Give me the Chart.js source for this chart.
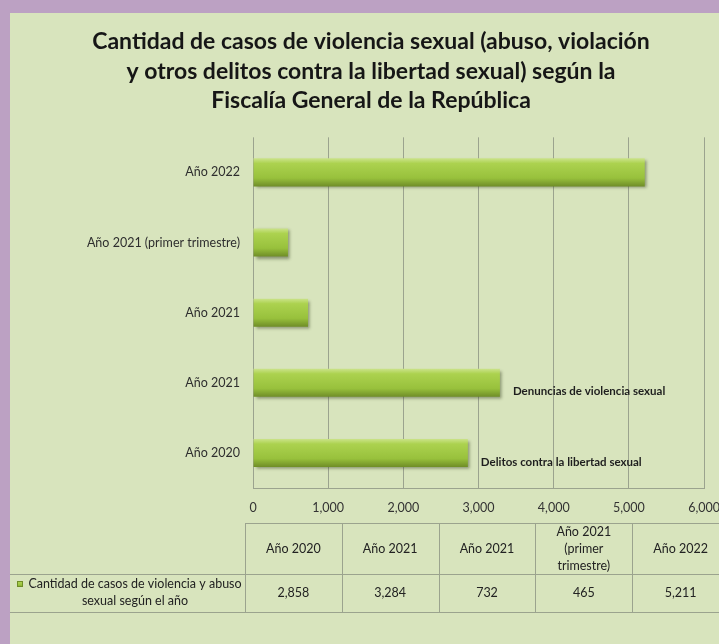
<!DOCTYPE html>
<html lang="es">
<head>
<meta charset="utf-8">
<title>Casos de violencia sexual</title>
<script src="https://cdn.jsdelivr.net/npm/chart.js@4.4.1/dist/chart.umd.min.js"></script>
<style>
  html, body { margin: 0; padding: 0; }
  body { width: 719px; height: 644px; overflow: hidden; background: #bca1c3; position: relative; }
  #panel { position: absolute; left: 10px; top: 13px; width: 722px; height: 631px; background: #d8e4bd; }
</style>
</head>
<body>
<div id="panel"><canvas id="casesChart" width="722" height="631"></canvas></div>
<script>
// categories in data order (Excel draws them bottom to top)
const categories = ["Año 2020", "Año 2021", "Año 2021", "Año 2021 (primer trimestre)", "Año 2022"];
const tableHeaders = [["Año 2020"], ["Año 2021"], ["Año 2021"], ["Año 2021", "(primer", "trimestre)"], ["Año 2022"]];
const casos = [2858, 3284, 732, 465, 5211];
const barNotes = ["Delitos contra la libertad sexual", "Denuncias de violencia sexual", "", "", ""];
const seriesName = ["Cantidad de casos de violencia y abuso", "sexual según el año"];
const xTicks = [0, 1000, 2000, 3000, 4000, 5000, 6000];
const chartTitle = [
  "Cantidad de casos de violencia sexual (abuso, violación",
  "y otros delitos contra la libertad sexual) según la",
  "Fiscalía General de la República",
];

const FONT = "Lato, 'Open Sans', sans-serif";
const GRID = "#9ba38e";

function barGradient(ctx, top, bottom) {
  const g = ctx.createLinearGradient(0, top, 0, bottom);
  g.addColorStop(0, "#cbe38a");
  g.addColorStop(0.18, "#acd24f");
  g.addColorStop(0.7, "#98c13c");
  g.addColorStop(1, "#6f8d27");
  return g;
}

// bar shadow + notes next to the bars
const barDecor = {
  id: "barDecor",
  beforeDatasetsDraw(chart) {
    const c = chart.ctx;
    c.save();
    c.shadowColor = "rgba(40,50,20,0.45)";
    c.shadowBlur = 3;
    c.shadowOffsetX = 2;
    c.shadowOffsetY = 2;
  },
  afterDatasetsDraw(chart) {
    const c = chart.ctx;
    c.restore();
    const meta = chart.getDatasetMeta(0);
    c.save();
    c.font = "bold 11.5px " + FONT;
    c.fillStyle = "#1e1e1e";
    c.textBaseline = "middle";
    c.textAlign = "left";
    meta.data.forEach((bar, i) => {
      if (!barNotes[i]) return;
      c.fillText(barNotes[i], bar.x + 13, bar.y + 9);
    });
    c.restore();
  },
};

// Excel-like data table under the chart
const dataTable = {
  id: "dataTable",
  afterDraw(chart) {
    const c = chart.ctx;
    const area = chart.chartArea;
    const left = area.left - 8;
    const colW = 96.8;
    const top = area.bottom + 35;
    const mid = top + 51;
    const bottom = mid + 38;
    c.save();
    c.strokeStyle = GRID;
    c.lineWidth = 1;
    c.beginPath();
    c.moveTo(left, top + 0.5); c.lineTo(chart.width, top + 0.5);
    c.moveTo(0, mid + 0.5); c.lineTo(chart.width, mid + 0.5);
    c.moveTo(0, bottom + 0.5); c.lineTo(chart.width, bottom + 0.5);
    for (let i = 0; i <= categories.length; i++) {
      const x = Math.round(left + i * colW) + 0.5;
      c.moveTo(x, top); c.lineTo(x, bottom);
    }
    c.stroke();

    c.fillStyle = "#222";
    c.font = "12.5px " + FONT;
    c.textAlign = "center";
    c.textBaseline = "middle";
    tableHeaders.forEach((lines, i) => {
      const cx = left + (i + 0.5) * colW;
      const cy = (top + mid) / 2 - ((lines.length - 1) * 17) / 2;
      lines.forEach((t, k) => c.fillText(t, cx, cy + k * 17));
    });
    casos.forEach((v, i) => {
      c.fillText(v.toLocaleString("en-US"), left + (i + 0.5) * colW, (mid + bottom) / 2);
    });

    // series key
    c.fillText(seriesName[0], 125, mid + 10);
    c.fillText(seriesName[1], 125, mid + 27);
    c.fillStyle = barGradient(c, mid + 7, mid + 13);
    c.fillRect(7, mid + 7, 6, 6);
    c.strokeStyle = "#6f8d27";
    c.strokeRect(7.5, mid + 7.5, 5, 5);
    c.restore();
  },
};

new Chart(document.getElementById("casesChart"), {
  type: "bar",
  data: {
    labels: categories,
    datasets: [
      {
        label: seriesName.join(" "),
        data: casos,
        backgroundColor: (ctx) => {
          const chart = ctx.chart;
          const y = chart.scales.y;
          if (!chart.chartArea || !y) return "#9cc43f";
          const cy = y.getPixelForValue(ctx.dataIndex);
          const h = (y.height / categories.length) * 0.4;
          return barGradient(chart.ctx, cy - h / 2, cy + h / 2);
        },
        borderWidth: 0,
        barPercentage: 0.8,
        categoryPercentage: 0.5,
      },
    ],
  },
  options: {
    indexAxis: "y",
    responsive: false,
    animation: false,
    devicePixelRatio: 1,
    layout: { padding: { left: 27, right: 27, top: 0, bottom: 126 } },
    plugins: {
      legend: { display: false },
      tooltip: { enabled: false },
      title: {
        display: true,
        text: chartTitle,
        color: "#161616",
        font: { family: FONT, size: 23, weight: "bold", lineHeight: 1.28 },
        padding: { top: 14, bottom: 22 },
      },
    },
    scales: {
      x: {
        min: xTicks[0],
        max: xTicks[xTicks.length - 1],
        afterBuildTicks: (s) => { s.ticks = xTicks.map((v) => ({ value: v })); },
        afterFit: (s) => { s.height = 30; },
        grid: { color: GRID, drawTicks: false },
        border: { color: GRID },
        ticks: { color: "#333", padding: 12, font: { family: FONT, size: 12.5 } },
      },
      y: {
        reverse: true,
        afterFit: (s) => { s.width = 216; },
        grid: { display: false, drawTicks: false },
        border: { display: false },
        ticks: { color: "#2e2e2e", padding: 13, font: { family: FONT, size: 12.5 } },
      },
    },
  },
  plugins: [barDecor, dataTable],
});
</script>
</body>
</html>
